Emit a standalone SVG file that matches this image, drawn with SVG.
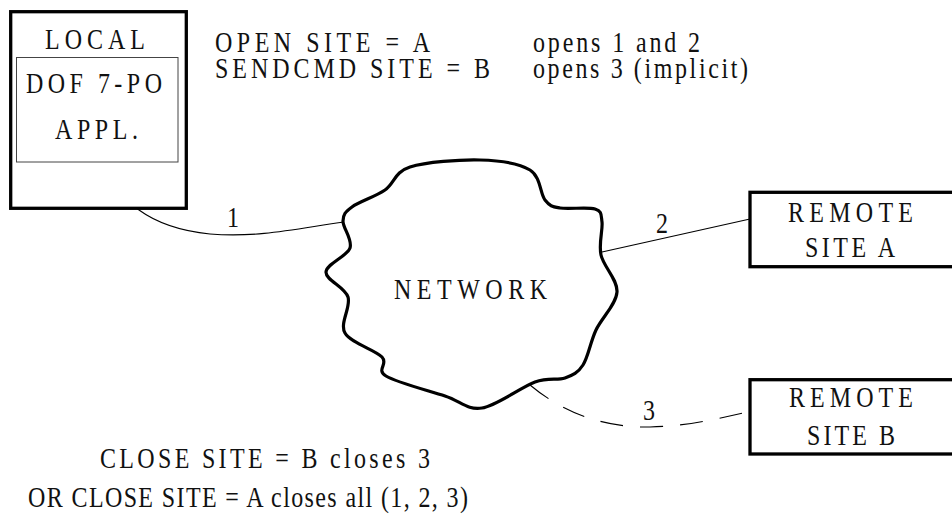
<svg xmlns="http://www.w3.org/2000/svg" width="952" height="516" viewBox="0 0 952 516">
  <style>
    text { font-family: 'Liberation Serif', 'DejaVu Serif', serif; font-size: 24px; fill: #111; }
    .box { fill: #fff; stroke: #000; stroke-width: 3.3; }
    .inner { fill: none; stroke: #444; stroke-width: 1; }
    .cloud { fill: #fff; stroke: #000; stroke-width: 3.2; stroke-linejoin: round; }
    .link { fill: none; stroke: #000; stroke-width: 1.1; }
    .dashed { stroke-dasharray: 23 17; }
  </style>

  <rect width="952" height="516" fill="#fff"/>

  <!-- connectors (drawn first so node outlines sit on top) -->
  <g id="connectors">
    <path class="link" d="M107,162 C115,200 150,228 210,234 C260,238 300,228 344,222"/>
    <path class="link" d="M602,252 L750,219"/>
    <path class="link dashed" d="M530,385 C560,410 600,428 650,427 C690,426 720,418 748,412"/>
    <text transform="translate(227 227) scale(1 1.25)">1</text>
    <text transform="translate(656 233) scale(1 1.25)">2</text>
    <text transform="translate(643 420) scale(1 1.25)">3</text>
  </g>

  <!-- local host with the application inside -->
  <g id="node-local">
    <rect class="box" x="10.7" y="11.7" width="175.6" height="196.6"/>
    <rect class="inner" x="16.5" y="57.5" width="161.5" height="104.5"/>
    <text transform="translate(45 49) scale(1 1.25)" textLength="100" lengthAdjust="spacing">LOCAL</text>
    <text transform="translate(26 93) scale(1 1.25)" textLength="136" lengthAdjust="spacing">DOF 7-PO</text>
    <text transform="translate(55 139) scale(1 1.25)" textLength="83" lengthAdjust="spacing">APPL.</text>
  </g>

  <!-- network cloud -->
  <g id="node-network">
    <path class="cloud" d="M343,221
      C343.3,214.2 345,212.2 352,207
      C359,201.8 375.3,196.7 385,190
      C394.7,183.3 394.2,172 410,167
      C425.8,162 460,159.5 480,160
      C500,160.5 519.2,163.3 530,170
      C540.8,176.7 540,193.7 545,200
      C550,206.3 551.7,206.5 560,208
      C568.3,209.5 588,206.7 595,209
      C602,211.3 601,214.3 602,222
      C603,229.7 598.5,243.3 601,255
      C603.5,266.7 617.8,279.5 617,292
      C616.2,304.5 601.7,317.8 596,330
      C590.3,342.2 588.2,357 583,365
      C577.8,373 573,375.2 565,378
      C557,380.8 548.8,377 535,382
      C521.2,387 497,405.7 482,408
      C467,410.3 461,401.3 445,396
      C429,390.7 396.5,382.5 386,376
      C375.5,369.5 388.8,364.2 382,357
      C375.2,349.8 350.7,343 345,333
      C339.3,323 351.2,307.2 348,297
      C344.8,286.8 325.7,280.2 326,272
      C326.3,263.8 347.2,256.5 350,248
      C352.8,239.5 342.7,227.8 343,221 Z"/>
    <text transform="translate(394 299) scale(1 1.25)" textLength="153" lengthAdjust="spacing">NETWORK</text>
  </g>

  <!-- remote site A -->
  <g id="node-remote-a">
    <rect class="box" x="750" y="192.3" width="220" height="74.4"/>
    <text transform="translate(788 222) scale(1 1.25)" textLength="125" lengthAdjust="spacing">REMOTE</text>
    <text transform="translate(805 257) scale(1 1.25)" textLength="90" lengthAdjust="spacing">SITE A</text>
  </g>

  <!-- remote site B -->
  <g id="node-remote-b">
    <rect class="box" x="750" y="379.7" width="220" height="74.3"/>
    <text transform="translate(789 407) scale(1 1.25)" textLength="124" lengthAdjust="spacing">REMOTE</text>
    <text transform="translate(807 445) scale(1 1.25)" textLength="88" lengthAdjust="spacing">SITE B</text>
  </g>

  <!-- command notes -->
  <g id="notes">
    <text transform="translate(215 52) scale(1 1.25)" textLength="215" lengthAdjust="spacing">OPEN SITE = A</text>
    <text transform="translate(215 78) scale(1 1.25)" textLength="275" lengthAdjust="spacing">SENDCMD SITE = B</text>
    <text transform="translate(533 52) scale(1 1.25)" textLength="167" lengthAdjust="spacing">opens 1 and 2</text>
    <text transform="translate(533 78) scale(1 1.25)" textLength="215" lengthAdjust="spacing">opens 3 (implicit)</text>
    <text transform="translate(100 468) scale(1 1.25)" textLength="330" lengthAdjust="spacing">CLOSE SITE = B closes 3</text>
    <text transform="translate(28 507) scale(1 1.25)" textLength="440" lengthAdjust="spacing">OR CLOSE SITE = A closes all (1, 2, 3)</text>
  </g>
</svg>
